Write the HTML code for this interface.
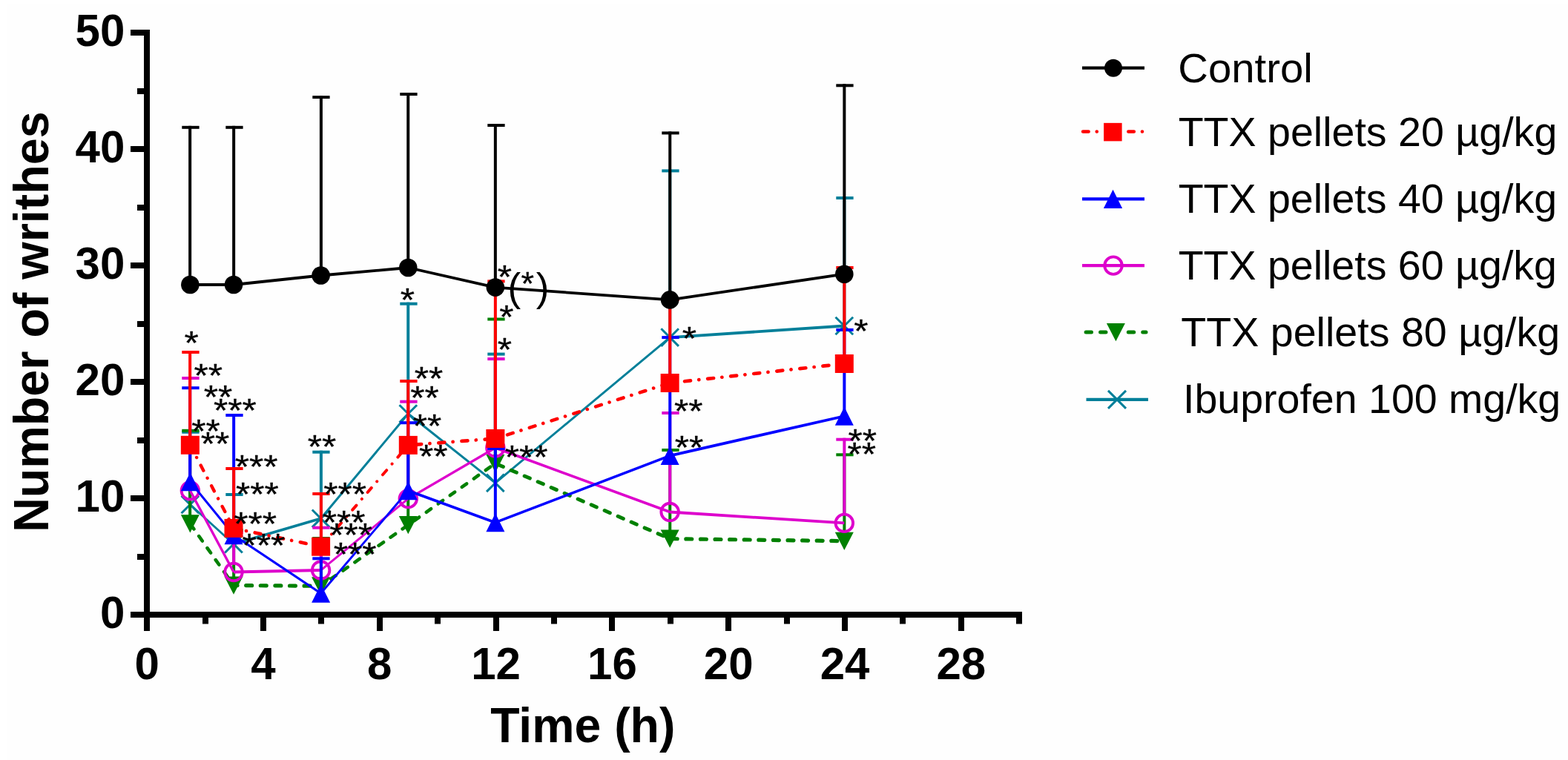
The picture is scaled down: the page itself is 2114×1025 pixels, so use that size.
<!DOCTYPE html>
<html lang="en"><head><meta charset="utf-8"><title>Number of writhes vs time</title>
<style>
html,body{margin:0;padding:0;background:#ffffff;}
body{width:2114px;height:1025px;overflow:hidden;}
svg{display:block;}
text{font-family:"Liberation Sans",sans-serif;fill:#000;}
.b{font-weight:bold;}
</style></head><body>
<svg width="2114" height="1025" viewBox="0 0 2114 1025">
<rect x="0" y="0" width="2114" height="1025" fill="#ffffff"/>
<rect x="9" y="6" width="2105" height="1019" fill="#fefefe"/>
<g id="s-teal">
<rect x="254.15" y="580.80" width="4" height="99.70" fill="#007f99"/>
<rect x="245.30" y="580.80" width="23.3" height="4" fill="#007f99"/>
<rect x="313.15" y="665.00" width="4" height="68.70" fill="#007f99"/>
<rect x="304.30" y="665.00" width="23.3" height="4" fill="#007f99"/>
<rect x="430.90" y="607.70" width="4" height="91.60" fill="#007f99"/>
<rect x="421.30" y="607.70" width="23.3" height="4" fill="#007f99"/>
<rect x="548.25" y="407.70" width="4" height="150.30" fill="#007f99"/>
<rect x="539.30" y="407.70" width="23.3" height="4" fill="#007f99"/>
<rect x="665.85" y="475.60" width="4" height="175.70" fill="#007f99"/>
<rect x="657.30" y="475.60" width="23.3" height="4" fill="#007f99"/>
<rect x="901.25" y="228.40" width="4" height="226.70" fill="#007f99"/>
<rect x="892.30" y="228.40" width="23.3" height="4" fill="#007f99"/>
<rect x="1136.35" y="265.00" width="4" height="174.50" fill="#007f99"/>
<rect x="1127.30" y="265.00" width="23.3" height="4" fill="#007f99"/>
<line x1="256.35" y1="680.50" x2="315.00" y2="733.70" stroke="#007f99" stroke-width="2.81"/>
<line x1="315.00" y1="733.70" x2="432.60" y2="699.30" stroke="#007f99" stroke-width="3.65"/>
<line x1="432.60" y1="699.30" x2="550.30" y2="558.00" stroke="#007f99" stroke-width="2.92"/>
<line x1="550.30" y1="558.00" x2="667.85" y2="651.30" stroke="#007f99" stroke-width="2.98"/>
<line x1="667.85" y1="651.30" x2="903.15" y2="455.10" stroke="#007f99" stroke-width="2.92"/>
<line x1="903.15" y1="455.10" x2="1138.30" y2="439.50" stroke="#007f99" stroke-width="3.79"/>
<path d="M244.55,668.70 L268.15,692.30 M244.55,692.30 L268.15,668.70" fill="none" stroke="#007f99" stroke-width="3" stroke-linecap="butt"/>
<path d="M303.20,721.90 L326.80,745.50 M303.20,745.50 L326.80,721.90" fill="none" stroke="#007f99" stroke-width="3" stroke-linecap="butt"/>
<path d="M420.80,687.50 L444.40,711.10 M420.80,711.10 L444.40,687.50" fill="none" stroke="#007f99" stroke-width="3" stroke-linecap="butt"/>
<path d="M538.50,546.20 L562.10,569.80 M538.50,569.80 L562.10,546.20" fill="none" stroke="#007f99" stroke-width="3" stroke-linecap="butt"/>
<path d="M656.05,639.50 L679.65,663.10 M656.05,663.10 L679.65,639.50" fill="none" stroke="#007f99" stroke-width="3" stroke-linecap="butt"/>
<path d="M891.35,443.30 L914.95,466.90 M891.35,466.90 L914.95,443.30" fill="none" stroke="#007f99" stroke-width="3" stroke-linecap="butt"/>
<path d="M1126.50,427.70 L1150.10,451.30 M1126.50,451.30 L1150.10,427.70" fill="none" stroke="#007f99" stroke-width="3" stroke-linecap="butt"/>
</g>
<g id="s-green">
<rect x="254.15" y="578.80" width="4" height="127.50" fill="#008000"/>
<rect x="245.30" y="578.80" width="23.3" height="4" fill="#008000"/>
<rect x="313.15" y="713.00" width="4" height="76.50" fill="#008000"/>
<rect x="304.30" y="713.00" width="23.3" height="4" fill="#008000"/>
<rect x="430.90" y="724.00" width="4" height="66.30" fill="#008000"/>
<rect x="421.30" y="724.00" width="23.3" height="4" fill="#008000"/>
<rect x="548.25" y="598.00" width="4" height="110.00" fill="#008000"/>
<rect x="539.30" y="598.00" width="23.3" height="4" fill="#008000"/>
<rect x="665.85" y="428.50" width="4" height="196.50" fill="#008000"/>
<rect x="657.30" y="428.50" width="23.3" height="4" fill="#008000"/>
<rect x="901.25" y="605.00" width="4" height="121.60" fill="#008000"/>
<rect x="892.30" y="605.00" width="23.3" height="4" fill="#008000"/>
<rect x="1136.35" y="611.30" width="4" height="118.40" fill="#008000"/>
<rect x="1127.30" y="611.30" width="23.3" height="4" fill="#008000"/>
<line x1="256.35" y1="706.30" x2="315.00" y2="789.50" stroke="#008000" stroke-width="4.58" stroke-dasharray="7.9 11.7" stroke-dashoffset="-0.90" stroke-linecap="round"/>
<line x1="315.00" y1="789.50" x2="432.60" y2="790.30" stroke="#008000" stroke-width="5.20" stroke-dasharray="7.9 11.7" stroke-dashoffset="100.89" stroke-linecap="round"/>
<line x1="432.60" y1="790.30" x2="550.30" y2="708.00" stroke="#008000" stroke-width="4.59" stroke-dasharray="7.9 11.7" stroke-dashoffset="218.50" stroke-linecap="round"/>
<line x1="550.30" y1="708.00" x2="667.85" y2="625.00" stroke="#008000" stroke-width="4.58" stroke-dasharray="7.9 11.7" stroke-dashoffset="362.12" stroke-linecap="round"/>
<line x1="667.85" y1="625.00" x2="903.15" y2="726.60" stroke="#008000" stroke-width="4.92" stroke-dasharray="7.9 11.7" stroke-dashoffset="506.02" stroke-linecap="round"/>
<line x1="903.15" y1="726.60" x2="1138.30" y2="729.70" stroke="#008000" stroke-width="5.20" stroke-dasharray="7.9 11.7" stroke-dashoffset="762.31" stroke-linecap="round"/>
<polygon points="243.85,694.30 268.85,694.30 256.35,718.50" fill="#008000"/>
<polygon points="302.50,777.50 327.50,777.50 315.00,801.70" fill="#008000"/>
<polygon points="420.10,778.30 445.10,778.30 432.60,802.50" fill="#008000"/>
<polygon points="537.80,696.00 562.80,696.00 550.30,720.20" fill="#008000"/>
<polygon points="655.35,613.00 680.35,613.00 667.85,637.20" fill="#008000"/>
<polygon points="890.65,714.60 915.65,714.60 903.15,738.80" fill="#008000"/>
<polygon points="1125.80,717.70 1150.80,717.70 1138.30,741.90" fill="#008000"/>
</g>
<g id="s-mag">
<rect x="254.15" y="508.00" width="4" height="141.70" fill="#dd00cc"/>
<rect x="245.30" y="508.00" width="23.3" height="4" fill="#dd00cc"/>
<rect x="313.15" y="716.00" width="4" height="43.50" fill="#dd00cc"/>
<rect x="304.30" y="716.00" width="23.3" height="4" fill="#dd00cc"/>
<rect x="430.90" y="709.70" width="4" height="47.30" fill="#dd00cc"/>
<rect x="421.30" y="709.70" width="23.3" height="4" fill="#dd00cc"/>
<rect x="548.25" y="539.70" width="4" height="120.90" fill="#dd00cc"/>
<rect x="539.30" y="539.70" width="23.3" height="4" fill="#dd00cc"/>
<rect x="665.85" y="482.10" width="4" height="109.90" fill="#dd00cc"/>
<rect x="657.30" y="482.10" width="23.3" height="4" fill="#dd00cc"/>
<rect x="901.25" y="555.00" width="4" height="123.50" fill="#dd00cc"/>
<rect x="892.30" y="555.00" width="23.3" height="4" fill="#dd00cc"/>
<rect x="1136.35" y="590.70" width="4" height="102.70" fill="#dd00cc"/>
<rect x="1127.30" y="590.70" width="23.3" height="4" fill="#dd00cc"/>
<line x1="256.35" y1="661.70" x2="315.00" y2="771.50" stroke="#dd00cc" stroke-width="3.35"/>
<line x1="315.00" y1="771.50" x2="432.60" y2="769.00" stroke="#dd00cc" stroke-width="3.80"/>
<line x1="432.60" y1="769.00" x2="550.30" y2="672.60" stroke="#dd00cc" stroke-width="2.94"/>
<line x1="550.30" y1="672.60" x2="667.85" y2="604.00" stroke="#dd00cc" stroke-width="3.28"/>
<line x1="667.85" y1="604.00" x2="903.15" y2="690.50" stroke="#dd00cc" stroke-width="3.57"/>
<line x1="903.15" y1="690.50" x2="1138.30" y2="705.40" stroke="#dd00cc" stroke-width="3.79"/>
<circle cx="256.35" cy="661.70" r="11.75" fill="none" stroke="#dd00cc" stroke-width="3.9"/>
<circle cx="315.00" cy="771.50" r="11.75" fill="none" stroke="#dd00cc" stroke-width="3.9"/>
<circle cx="432.60" cy="769.00" r="11.75" fill="none" stroke="#dd00cc" stroke-width="3.9"/>
<circle cx="550.30" cy="672.60" r="11.75" fill="none" stroke="#dd00cc" stroke-width="3.9"/>
<circle cx="667.85" cy="604.00" r="11.75" fill="none" stroke="#dd00cc" stroke-width="3.9"/>
<circle cx="903.15" cy="690.50" r="11.75" fill="none" stroke="#dd00cc" stroke-width="3.9"/>
<circle cx="1138.30" cy="705.40" r="11.75" fill="none" stroke="#dd00cc" stroke-width="3.9"/>
</g>
<g id="s-blue">
<rect x="254.15" y="521.20" width="4" height="128.50" fill="#0000ff"/>
<rect x="245.30" y="521.20" width="23.3" height="4" fill="#0000ff"/>
<rect x="313.15" y="558.00" width="4" height="163.70" fill="#0000ff"/>
<rect x="304.30" y="558.00" width="23.3" height="4" fill="#0000ff"/>
<rect x="430.90" y="751.30" width="4" height="48.90" fill="#0000ff"/>
<rect x="421.30" y="751.30" width="23.3" height="4" fill="#0000ff"/>
<rect x="548.25" y="568.20" width="4" height="93.50" fill="#0000ff"/>
<rect x="539.30" y="568.20" width="23.3" height="4" fill="#0000ff"/>
<rect x="665.85" y="603.00" width="4" height="101.70" fill="#0000ff"/>
<rect x="657.30" y="603.00" width="23.3" height="4" fill="#0000ff"/>
<rect x="901.25" y="453.10" width="4" height="161.50" fill="#0000ff"/>
<rect x="892.30" y="453.10" width="23.3" height="4" fill="#0000ff"/>
<rect x="1136.35" y="442.90" width="4" height="118.30" fill="#0000ff"/>
<rect x="1127.30" y="442.90" width="23.3" height="4" fill="#0000ff"/>
<line x1="256.35" y1="649.70" x2="315.00" y2="721.70" stroke="#0000ff" stroke-width="2.95"/>
<line x1="315.00" y1="721.70" x2="432.60" y2="800.20" stroke="#0000ff" stroke-width="3.16"/>
<line x1="432.60" y1="800.20" x2="550.30" y2="661.70" stroke="#0000ff" stroke-width="2.90"/>
<line x1="550.30" y1="661.70" x2="667.85" y2="704.70" stroke="#0000ff" stroke-width="3.57"/>
<line x1="667.85" y1="704.70" x2="903.15" y2="614.60" stroke="#0000ff" stroke-width="3.55"/>
<line x1="903.15" y1="614.60" x2="1138.30" y2="561.20" stroke="#0000ff" stroke-width="3.71"/>
<polygon points="256.35,637.20 268.85,662.20 243.85,662.20" fill="#0000ff"/>
<polygon points="315.00,709.20 327.50,734.20 302.50,734.20" fill="#0000ff"/>
<polygon points="432.60,787.70 445.10,812.70 420.10,812.70" fill="#0000ff"/>
<polygon points="550.30,649.20 562.80,674.20 537.80,674.20" fill="#0000ff"/>
<polygon points="667.85,692.20 680.35,717.20 655.35,717.20" fill="#0000ff"/>
<polygon points="903.15,602.10 915.65,627.10 890.65,627.10" fill="#0000ff"/>
<polygon points="1138.30,548.70 1150.80,573.70 1125.80,573.70" fill="#0000ff"/>
</g>
<g id="s-red">
<rect x="254.15" y="473.00" width="4" height="127.30" fill="#ff0000"/>
<rect x="245.30" y="473.00" width="23.3" height="4" fill="#ff0000"/>
<rect x="313.15" y="630.00" width="4" height="82.40" fill="#ff0000"/>
<rect x="304.30" y="630.00" width="23.3" height="4" fill="#ff0000"/>
<rect x="430.90" y="664.00" width="4" height="73.20" fill="#ff0000"/>
<rect x="421.30" y="664.00" width="23.3" height="4" fill="#ff0000"/>
<rect x="548.25" y="512.00" width="4" height="88.40" fill="#ff0000"/>
<rect x="539.30" y="512.00" width="23.3" height="4" fill="#ff0000"/>
<rect x="665.85" y="377.40" width="4" height="214.10" fill="#ff0000"/>
<rect x="657.30" y="377.40" width="23.3" height="4" fill="#ff0000"/>
<rect x="901.25" y="402.00" width="4" height="114.50" fill="#ff0000"/>
<rect x="892.30" y="402.00" width="23.3" height="4" fill="#ff0000"/>
<rect x="1136.35" y="359.00" width="4" height="131.50" fill="#ff0000"/>
<rect x="1127.30" y="359.00" width="23.3" height="4" fill="#ff0000"/>
<line x1="256.35" y1="600.30" x2="315.00" y2="712.40" stroke="#ff0000" stroke-width="4.35" stroke-dasharray="8.0 11.3 0.1 11.85" stroke-dashoffset="0.45" stroke-linecap="round"/>
<line x1="315.00" y1="712.40" x2="432.60" y2="737.20" stroke="#ff0000" stroke-width="4.63" stroke-dasharray="8.0 11.3 0.1 11.85" stroke-dashoffset="126.97" stroke-linecap="round"/>
<line x1="432.60" y1="737.20" x2="550.30" y2="600.40" stroke="#ff0000" stroke-width="3.96" stroke-dasharray="8.0 11.3 0.1 11.85" stroke-dashoffset="247.15" stroke-linecap="round"/>
<line x1="550.30" y1="600.40" x2="667.85" y2="591.50" stroke="#ff0000" stroke-width="4.69" stroke-dasharray="8.0 11.3 0.1 11.85" stroke-dashoffset="427.62" stroke-linecap="round"/>
<line x1="667.85" y1="591.50" x2="903.15" y2="516.50" stroke="#ff0000" stroke-width="4.56" stroke-dasharray="8.0 11.3 0.1 11.85" stroke-dashoffset="545.50" stroke-linecap="round"/>
<line x1="903.15" y1="516.50" x2="1138.30" y2="490.50" stroke="#ff0000" stroke-width="4.68" stroke-dasharray="8.0 11.3 0.1 11.85" stroke-dashoffset="792.47" stroke-linecap="round"/>
<rect x="243.85" y="587.80" width="25.00" height="25.00" fill="#ff0000"/>
<rect x="302.50" y="699.90" width="25.00" height="25.00" fill="#ff0000"/>
<rect x="420.10" y="724.70" width="25.00" height="25.00" fill="#ff0000"/>
<rect x="537.80" y="587.90" width="25.00" height="25.00" fill="#ff0000"/>
<rect x="655.35" y="579.00" width="25.00" height="25.00" fill="#ff0000"/>
<rect x="890.65" y="504.00" width="25.00" height="25.00" fill="#ff0000"/>
<rect x="1125.80" y="478.00" width="25.00" height="25.00" fill="#ff0000"/>
</g>
<g id="s-black">
<rect x="254.15" y="169.80" width="4" height="214.20" fill="#000000"/>
<rect x="245.30" y="169.80" width="23.3" height="4" fill="#000000"/>
<rect x="313.15" y="169.80" width="4" height="214.20" fill="#000000"/>
<rect x="304.30" y="169.80" width="23.3" height="4" fill="#000000"/>
<rect x="430.90" y="129.10" width="4" height="242.40" fill="#000000"/>
<rect x="421.30" y="129.10" width="23.3" height="4" fill="#000000"/>
<rect x="548.25" y="125.00" width="4" height="236.00" fill="#000000"/>
<rect x="539.30" y="125.00" width="23.3" height="4" fill="#000000"/>
<rect x="665.85" y="167.00" width="4" height="220.60" fill="#000000"/>
<rect x="657.30" y="167.00" width="23.3" height="4" fill="#000000"/>
<rect x="901.25" y="177.40" width="4" height="227.00" fill="#000000"/>
<rect x="892.30" y="177.40" width="23.3" height="4" fill="#000000"/>
<rect x="1136.35" y="113.30" width="4" height="256.40" fill="#000000"/>
<rect x="1127.30" y="113.30" width="23.3" height="4" fill="#000000"/>
<line x1="256.35" y1="384.00" x2="315.00" y2="384.00" stroke="#000000" stroke-width="3.80"/>
<line x1="315.00" y1="384.00" x2="432.60" y2="371.50" stroke="#000000" stroke-width="3.78"/>
<line x1="432.60" y1="371.50" x2="550.30" y2="361.00" stroke="#000000" stroke-width="3.78"/>
<line x1="550.30" y1="361.00" x2="667.85" y2="387.60" stroke="#000000" stroke-width="3.71"/>
<line x1="667.85" y1="387.60" x2="903.15" y2="404.40" stroke="#000000" stroke-width="3.79"/>
<line x1="903.15" y1="404.40" x2="1138.30" y2="369.70" stroke="#000000" stroke-width="3.76"/>
<circle cx="256.35" cy="384.00" r="12.30" fill="#000000"/>
<circle cx="315.00" cy="384.00" r="12.30" fill="#000000"/>
<circle cx="432.60" cy="371.50" r="12.30" fill="#000000"/>
<circle cx="550.30" cy="361.00" r="12.30" fill="#000000"/>
<circle cx="667.85" cy="387.60" r="12.30" fill="#000000"/>
<circle cx="903.15" cy="404.40" r="12.30" fill="#000000"/>
<circle cx="1138.30" cy="369.70" r="12.30" fill="#000000"/>
</g>
<g id="axes" fill="#000">
<rect x="194" y="40" width="8" height="811"/>
<rect x="176" y="825" width="1202" height="8"/>
<rect x="176" y="825" width="20" height="8"/>
<rect x="185" y="747" width="11" height="8"/>
<rect x="176" y="668" width="20" height="8"/>
<rect x="185" y="590" width="11" height="8"/>
<rect x="176" y="511" width="20" height="8"/>
<rect x="185" y="433" width="11" height="8"/>
<rect x="176" y="354" width="20" height="8"/>
<rect x="185" y="276" width="11" height="8"/>
<rect x="176" y="197" width="20" height="8"/>
<rect x="185" y="119" width="11" height="8"/>
<rect x="176" y="40" width="20" height="8"/>
<rect x="194" y="829" width="8" height="22"/>
<rect x="273" y="829" width="8" height="12.5"/>
<rect x="351" y="829" width="8" height="22"/>
<rect x="429" y="829" width="8" height="12.5"/>
<rect x="508" y="829" width="8" height="22"/>
<rect x="586" y="829" width="8" height="12.5"/>
<rect x="665" y="829" width="8" height="22"/>
<rect x="743" y="829" width="8" height="12.5"/>
<rect x="821" y="829" width="8" height="22"/>
<rect x="900" y="829" width="8" height="12.5"/>
<rect x="978" y="829" width="8" height="22"/>
<rect x="1057" y="829" width="8" height="12.5"/>
<rect x="1135" y="829" width="8" height="22"/>
<rect x="1213" y="829" width="8" height="12.5"/>
<rect x="1292" y="829" width="8" height="22"/>
<rect x="1370" y="829" width="8" height="12.5"/>
</g>
<g id="ticklabels" class="b">
<text transform="translate(168.3,846.70) scale(1,1.02)" font-size="60" text-anchor="end">0</text>
<text transform="translate(168.3,689.70) scale(1,1.02)" font-size="60" text-anchor="end">10</text>
<text transform="translate(168.3,532.70) scale(1,1.02)" font-size="60" text-anchor="end">20</text>
<text transform="translate(168.3,375.70) scale(1,1.02)" font-size="60" text-anchor="end">30</text>
<text transform="translate(168.3,218.70) scale(1,1.02)" font-size="60" text-anchor="end">40</text>
<text transform="translate(168.3,61.70) scale(1,1.02)" font-size="60" text-anchor="end">50</text>
<text transform="translate(198.20,915.8) scale(1,1.02)" font-size="60" text-anchor="middle">0</text>
<text transform="translate(355.00,915.8) scale(1,1.02)" font-size="60" text-anchor="middle">4</text>
<text transform="translate(511.80,915.8) scale(1,1.02)" font-size="60" text-anchor="middle">8</text>
<text transform="translate(668.60,915.8) scale(1,1.02)" font-size="60" text-anchor="middle">12</text>
<text transform="translate(825.40,915.8) scale(1,1.02)" font-size="60" text-anchor="middle">16</text>
<text transform="translate(982.20,915.8) scale(1,1.02)" font-size="60" text-anchor="middle">20</text>
<text transform="translate(1139.00,915.8) scale(1,1.02)" font-size="60" text-anchor="middle">24</text>
<text transform="translate(1295.80,915.8) scale(1,1.02)" font-size="60" text-anchor="middle">28</text>
</g>
<g id="titles" class="b">
<text transform="translate(661.18,1001.00) scale(0.9985,1.03)" font-size="64.5">Time (h)</text>
<text transform="translate(65,717.82) rotate(-90) scale(1.0008,1.03)" font-size="64.6">Number of writhes</text>
</g>
<g id="legend">
<line x1="1459.0" y1="91.7" x2="1543.0" y2="91.7" stroke="#000000" stroke-width="4.2"/>
<circle cx="1501.00" cy="91.70" r="12.00" fill="#000000"/>
<text transform="translate(1588.34,110.50) scale(1.0233,1.01)" font-size="55">Control</text>
<line x1="1457.8" y1="177.6" x2="1492.3" y2="177.6" stroke="#ff0000" stroke-width="4.5" stroke-dasharray="7.6 11.05 0.1 12.15" stroke-dashoffset="-2.25" stroke-linecap="round"/>
<line x1="1519.0" y1="177.6" x2="1540.6" y2="177.6" stroke="#ff0000" stroke-width="4.5" stroke-dasharray="7.6 11.05 0.1 12.15" stroke-dashoffset="-2.25" stroke-linecap="round"/>
<rect x="1488.10" y="165.85" width="24.50" height="24.50" fill="#ff0000"/>
<text transform="translate(1588.65,196.80) scale(1.0103,1.01)" font-size="55">TTX pellets 20 µg/kg</text>
<line x1="1459.0" y1="268.4" x2="1543.0" y2="268.4" stroke="#0000ff" stroke-width="4.2"/>
<polygon points="1500.50,255.80 1513.10,281.00 1487.90,281.00" fill="#0000ff"/>
<text transform="translate(1588.65,287.00) scale(1.0099,1.01)" font-size="55">TTX pellets 40 µg/kg</text>
<line x1="1459.0" y1="358.1" x2="1543.0" y2="358.1" stroke="#dd00cc" stroke-width="4.2"/>
<circle cx="1501.00" cy="358.10" r="11.75" fill="none" stroke="#dd00cc" stroke-width="3.9"/>
<text transform="translate(1588.65,377.20) scale(1.0097,1.01)" font-size="55">TTX pellets 60 µg/kg</text>
<line x1="1461.6" y1="448.0" x2="1496.4" y2="448.0" stroke="#008000" stroke-width="5.0" stroke-dasharray="7.4 12.05" stroke-dashoffset="-2.5" stroke-linecap="round"/>
<line x1="1518.8" y1="448.0" x2="1545.0" y2="448.0" stroke="#008000" stroke-width="5.0" stroke-dasharray="7.4 12.05" stroke-dashoffset="-2.5" stroke-linecap="round"/>
<polygon points="1491.90,436.00 1516.90,436.00 1504.40,460.20" fill="#008000"/>
<text transform="translate(1592.35,467.30) scale(1.0109,1.01)" font-size="55">TTX pellets 80 µg/kg</text>
<line x1="1464.5" y1="538.9" x2="1548.0" y2="538.9" stroke="#007f99" stroke-width="4.2"/>
<path d="M1494.00,526.90 L1518.00,550.90 M1494.00,550.90 L1518.00,526.90" fill="none" stroke="#007f99" stroke-width="3" stroke-linecap="butt"/>
<text transform="translate(1595.08,557.30) scale(1.0095,1.01)" font-size="55">Ibuprofen 100 mg/kg</text>
</g>
<g id="stars" font-size="45.0" stroke="#000" stroke-width="0.3" stroke-linejoin="round">
<text transform="translate(248.45,477.51) scale(1.1,1)">*</text>
<text transform="translate(261.55,522.41) scale(1.1,1)">**</text>
<text transform="translate(274.75,550.81) scale(1.1,1)">**</text>
<text transform="translate(287.95,568.91) scale(1.1,1)">***</text>
<text transform="translate(258.15,596.81) scale(1.1,1)">**</text>
<text transform="translate(270.85,613.81) scale(1.1,1)">**</text>
<text transform="translate(316.75,644.81) scale(1.1,1)">***</text>
<text transform="translate(317.95,681.81) scale(1.1,1)">***</text>
<text transform="translate(315.25,722.11) scale(1.1,1)">***</text>
<text transform="translate(326.45,750.91) scale(1.1,1)">***</text>
<text transform="translate(414.75,617.91) scale(1.1,1)">**</text>
<text transform="translate(436.15,681.91) scale(1.1,1)">***</text>
<text transform="translate(434.75,719.91) scale(1.1,1)">***</text>
<text transform="translate(444.35,737.01) scale(1.1,1)">***</text>
<text transform="translate(449.85,762.91) scale(1.1,1)">***</text>
<text transform="translate(539.65,420.21) scale(1.1,1)">*</text>
<text transform="translate(558.65,526.01) scale(1.1,1)">**</text>
<text transform="translate(553.25,552.41) scale(1.1,1)">**</text>
<text transform="translate(556.75,589.91) scale(1.1,1)">**</text>
<text transform="translate(565.05,631.11) scale(1.1,1)">**</text>
<text transform="translate(670.85,389.21) scale(1.1,1)">*</text>
<text transform="translate(673.25,442.61) scale(1.1,1)">*</text>
<text transform="translate(670.85,487.01) scale(1.1,1)">*</text>
<text transform="translate(680.65,631.91) scale(1.1,1)">***</text>
<text transform="translate(919.65,472.41) scale(1.1,1)">*</text>
<text transform="translate(908.95,570.41) scale(1.1,1)">**</text>
<text transform="translate(909.85,618.91) scale(1.1,1)">**</text>
<text transform="translate(1151.35,462.11) scale(1.1,1)">*</text>
<text transform="translate(1143.55,609.91) scale(1.1,1)">**</text>
<text transform="translate(1142.55,628.01) scale(1.1,1)">**</text>
<text x="684.51" y="406.00" font-size="53.0" stroke-width="0">(<tspan font-size="45.0" stroke-width="0.3" x="702.45" y="398.11">*</tspan><tspan x="722.74" y="406.00">)</tspan></text>
</g>
</svg>
</body></html>
